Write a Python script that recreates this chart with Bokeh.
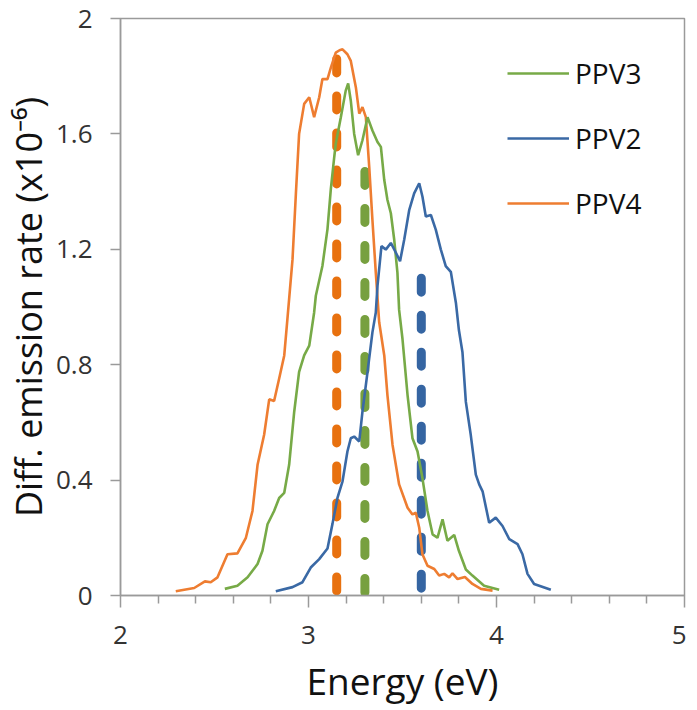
from bokeh.plotting import figure
from bokeh.models import Range1d, FixedTicker, CustomJSTickFormatter, Legend
from bokeh.embed import file_html
from bokeh.resources import INLINE

# ---- data ----
ppv4_x = [2.294, 2.392, 2.449, 2.48, 2.516, 2.569, 2.622, 2.667, 2.702, 2.729, 2.764, 2.791, 2.817,
          2.844, 2.871, 2.888, 2.915, 2.933, 2.95, 2.977, 3.004, 3.03, 3.057, 3.074, 3.101, 3.119,
          3.145, 3.165, 3.181, 3.207, 3.225, 3.252, 3.27, 3.287, 3.305, 3.323, 3.34, 3.358, 3.376,
          3.403, 3.42, 3.447, 3.482, 3.527, 3.553, 3.571, 3.589, 3.606, 3.633, 3.669, 3.695, 3.722,
          3.748, 3.766, 3.793, 3.832, 3.872, 3.917, 3.979]
ppv4_y = [0.015, 0.026, 0.049, 0.046, 0.063, 0.143, 0.146, 0.2, 0.293, 0.453, 0.557, 0.68, 0.674,
          0.752, 0.832, 0.96, 1.165, 1.394, 1.6, 1.704, 1.727, 1.658, 1.727, 1.79, 1.79, 1.83,
          1.882, 1.89, 1.893, 1.876, 1.853, 1.761, 1.67, 1.693, 1.658, 1.486, 1.302, 1.119, 0.947,
          0.832, 0.694, 0.522, 0.385, 0.304, 0.281, 0.287, 0.235, 0.143, 0.103, 0.092, 0.069, 0.075,
          0.063, 0.077, 0.057, 0.064, 0.04, 0.023, 0.017]

ppv3_x = [2.555, 2.622, 2.676, 2.729, 2.755, 2.782, 2.817, 2.844, 2.871, 2.897, 2.924, 2.95, 2.977,
          3.004, 3.03, 3.039, 3.074, 3.101, 3.119, 3.137, 3.145, 3.172, 3.198, 3.211, 3.225, 3.243,
          3.264, 3.287, 3.314, 3.34, 3.367, 3.385, 3.403, 3.42, 3.438, 3.456, 3.473, 3.482, 3.5,
          3.527, 3.553, 3.58, 3.606, 3.633, 3.66, 3.686, 3.713, 3.739, 3.775, 3.8, 3.837, 3.872,
          3.934, 4.014]
ppv3_y = [0.023, 0.034, 0.063, 0.109, 0.155, 0.247, 0.293, 0.338, 0.356, 0.453, 0.637, 0.775, 0.832,
          0.866, 0.981, 1.039, 1.142, 1.27, 1.41, 1.52, 1.566, 1.658, 1.75, 1.775, 1.715, 1.6,
          1.526, 1.578, 1.658, 1.612, 1.572, 1.555, 1.44, 1.371, 1.325, 1.233, 1.119, 0.99, 0.889,
          0.694, 0.545, 0.499, 0.407, 0.293, 0.212, 0.2, 0.264, 0.19, 0.21, 0.155, 0.09, 0.069,
          0.034, 0.02]

ppv2_x = [2.826, 2.915, 2.968, 3.012, 3.057, 3.101, 3.128, 3.154, 3.181, 3.207, 3.225, 3.243, 3.27,
          3.287, 3.314, 3.34, 3.358, 3.367, 3.388, 3.411, 3.438, 3.465, 3.487, 3.509, 3.536, 3.562,
          3.589, 3.606, 3.624, 3.651, 3.677, 3.704, 3.73, 3.757, 3.784, 3.8, 3.819, 3.837, 3.863,
          3.89, 3.908, 3.926, 3.961, 3.996, 4.032, 4.068, 4.112, 4.138, 4.165, 4.2, 4.289]
ppv2_y = [0.015, 0.029, 0.046, 0.097, 0.126, 0.163, 0.25, 0.338, 0.396, 0.499, 0.545, 0.551, 0.534,
          0.637, 0.775, 0.912, 0.981, 1.073, 1.211, 1.199, 1.222, 1.188, 1.159, 1.233, 1.337, 1.394,
          1.429, 1.383, 1.314, 1.319, 1.268, 1.199, 1.142, 1.122, 1.015, 0.92, 0.843, 0.671, 0.557,
          0.419, 0.385, 0.361, 0.252, 0.27, 0.241, 0.195, 0.178, 0.143, 0.075, 0.04, 0.02]

# peak (dashed) markers: PPV3, PPV2, PPV4
peak_energy = [3.3, 3.6, 3.15]
peak_height = [1.47, 1.1, 1.86]

x_ticks = [2, 3, 4, 5]
x_minor = [2.2, 2.4, 2.6, 2.8, 3.2, 3.4, 3.6, 3.8, 4.2, 4.4, 4.6, 4.8]
y_ticks = [0, 0.4, 0.8, 1.2, 1.6, 2.0]

green, blue, orange = "#77AA47", "#3A69A5", "#EE7D31"
green_d, blue_d, orange_d = "#77A03F", "#3565A2", "#E8710F"
FONT = "Open Sans"
TXT = "#333333"
AX = "#9A9A9A"

p = figure(frame_width=564, frame_height=577,
           x_range=Range1d(2, 5), y_range=Range1d(0, 2),
           output_backend="svg", toolbar_location=None,
           min_border_left=115, min_border_right=2, min_border_top=18, min_border_bottom=112)

p.xgrid.visible = False
p.ygrid.visible = False
p.outline_line_color = AX
p.outline_line_width = 1.5

# dashed peak lines (drawn from top down)
p.segment(x0=[peak_energy[2]], y0=[peak_height[2]], x1=[peak_energy[2]], y1=[0],
          line_color=orange_d, line_width=9, line_dash="14 23", line_cap="round")
p.segment(x0=[peak_energy[0]], y0=[peak_height[0]], x1=[peak_energy[0]], y1=[0],
          line_color=green_d, line_width=9, line_dash="14 23", line_cap="round")
p.segment(x0=[peak_energy[1]], y0=[peak_height[1]], x1=[peak_energy[1]], y1=[0],
          line_color=blue_d, line_width=9, line_dash="14 23", line_cap="round")

r4 = p.line(ppv4_x, ppv4_y, line_color=orange, line_width=2.6)
r3 = p.line(ppv3_x, ppv3_y, line_color=green, line_width=2.6)
r2 = p.line(ppv2_x, ppv2_y, line_color=blue, line_width=2.6)

# axes
p.xaxis.ticker = FixedTicker(ticks=x_ticks, minor_ticks=x_minor)
p.yaxis.ticker = FixedTicker(ticks=y_ticks, minor_ticks=[])
p.yaxis.formatter = CustomJSTickFormatter(
    code="const s = tick.toFixed(1); return s.endsWith('.0') ? s.slice(0, -2) : s;")

for ax in (p.xaxis[0], p.yaxis[0]):
    ax.axis_line_color = AX
    ax.axis_line_width = 1.5
    ax.major_tick_line_color = AX
    ax.major_tick_line_width = 1.5
    ax.minor_tick_line_color = AX
    ax.minor_tick_line_width = 1.5
    ax.major_tick_in = 0
    ax.minor_tick_in = 0
    ax.major_label_text_font = FONT
    ax.major_label_text_font_size = "26px"
    ax.major_label_text_color = TXT
    ax.axis_label_text_font = FONT
    ax.axis_label_text_font_style = "normal"
    ax.axis_label_text_color = "#111111"

p.xaxis.major_tick_out = 12
p.xaxis.minor_tick_out = 8
p.xaxis.major_label_standoff = 18
p.xaxis.axis_label = "Energy (eV)"
p.xaxis.axis_label_text_font_size = "37px"
p.xaxis.axis_label_standoff = 8

p.yaxis.major_tick_out = 10
p.yaxis.minor_tick_out = 0
p.yaxis.major_label_standoff = 18
p.yaxis.axis_label = "Diff. emission rate (x10\u207b\u2076)"
p.yaxis.axis_label_text_font_size = "36px"
p.yaxis.axis_label_standoff = 0

legend = Legend(items=[("PPV3", [r3]), ("PPV2", [r2]), ("PPV4", [r4])],
                location=(387, 372), orientation="vertical",
                glyph_width=62, glyph_height=40, label_height=40, label_standoff=6,
                spacing=25, padding=0, margin=0,
                border_line_color=None, background_fill_alpha=0,
                label_text_font=FONT, label_text_font_size="28px", label_text_color="#111111")
p.add_layout(legend)

open("out.html", "w").write(file_html(p, INLINE))
